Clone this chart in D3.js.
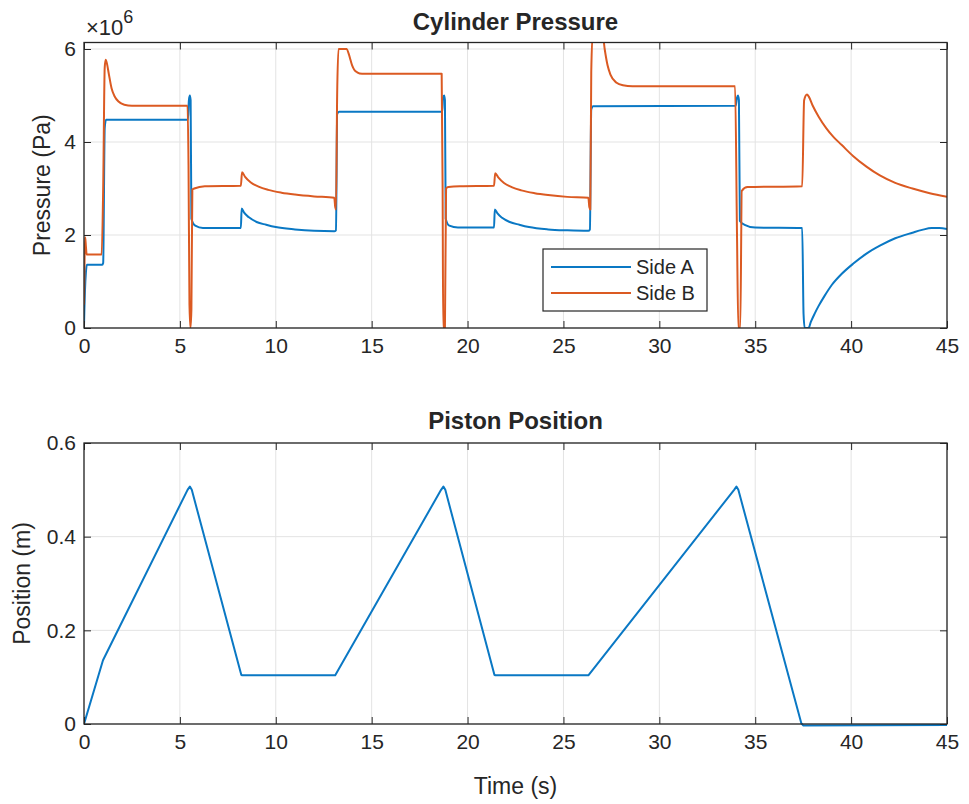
<!DOCTYPE html>
<html><head><meta charset="utf-8">
<script src="https://cdn.jsdelivr.net/npm/d3@7"></script>
<style>body{margin:0;background:#fff;} text{font-family:"Liberation Sans",Arial,sans-serif;fill:#262626;}</style>
</head><body><svg id="c" width="969" height="804"></svg>
<script>
// ---- data ----
const xTicks = [0,5,10,15,20,25,30,35,40,45];
const pTicks = [0,2,4,6];          // x 10^6 Pa
const posTicks = [0,0.2,0.4,0.6];
const seriesNames = ["Side A","Side B"];

const tA = [0,0.02,0.05,0.1,0.15,0.95,1.0,1.08,1.15,5.42,5.47,5.52,5.56,5.6,5.8,6.2,8.18,8.22,8.35,8.6,9,9.5,10,11,12,13.05,13.14,13.2,13.3,18.68,18.72,18.78,18.82,18.86,19.05,19.5,21.38,21.42,21.55,21.8,22.2,22.7,23.2,24.2,25.2,26.3,26.38,26.45,26.55,33.98,34.05,34.1,34.15,34.2,34.45,35.0,37.45,37.52,37.58,37.78,37.9,38.1,38.3,38.6,39.0,39.5,40.1,40.8,41.5,42.3,43.2,43.7,44.2,44.6,45];
const pA = [0.05,0.4,0.8,1.2,1.36,1.36,1.4,4.3,4.48,4.48,4.9,5.0,4.9,2.35,2.2,2.15,2.15,2.57,2.48,2.38,2.28,2.22,2.17,2.12,2.09,2.08,2.1,4.6,4.65,4.65,4.95,5.0,4.9,2.35,2.2,2.16,2.16,2.55,2.47,2.37,2.28,2.22,2.17,2.12,2.1,2.09,2.12,4.7,4.77,4.78,4.95,5.0,4.9,2.3,2.22,2.16,2.15,0.3,0,0,0.13,0.31,0.47,0.68,0.93,1.16,1.38,1.6,1.77,1.93,2.05,2.11,2.15,2.15,2.13];

const tB = [0,0.03,0.06,0.1,0.14,0.92,1.0,1.08,1.13,1.2,1.3,1.44,1.6,1.8,2.1,2.5,5.4,5.45,5.5,5.55,5.6,5.65,5.75,6.3,8.18,8.24,8.4,8.7,9.1,9.6,10.3,11,12,13.05,13.1,13.14,13.2,13.27,13.7,13.8,13.98,14.1,14.24,14.5,18.65,18.7,18.73,18.82,18.88,19,19.6,21.38,21.44,21.6,21.9,22.3,22.8,23.5,24.2,25.2,26.3,26.35,26.4,26.45,26.52,27.05,27.15,27.3,27.45,27.75,28.1,28.6,33.95,34.05,34.12,34.22,34.3,34.6,37.45,37.55,37.7,37.8,38.0,38.3,38.7,39.1,39.5,40.1,40.8,41.5,42.3,43.2,44.1,45];
const pB = [0.5,1.5,1.95,1.75,1.58,1.58,3.0,5.6,5.77,5.68,5.45,5.15,4.98,4.87,4.8,4.78,4.78,3.5,0.5,0,0.4,2.98,3.0,3.05,3.06,3.35,3.25,3.13,3.04,2.97,2.91,2.87,2.83,2.8,2.6,2.55,5.0,6.0,6.0,5.9,5.65,5.55,5.5,5.47,5.47,3.0,0,0,3.0,3.03,3.05,3.06,3.33,3.24,3.12,3.03,2.96,2.9,2.86,2.82,2.8,2.6,2.55,5.5,6.3,6.3,6.0,5.65,5.45,5.28,5.22,5.2,5.2,2.0,0,0,2.95,3.03,3.05,4.9,5.02,4.97,4.78,4.55,4.3,4.1,3.94,3.7,3.47,3.28,3.12,3.0,2.9,2.82];

const tPos = [0,0.99,5.4,5.52,5.62,8.2,8.25,13.1,18.62,18.74,18.84,21.4,21.45,26.3,33.9,34.02,34.12,37.4,37.5,45];
const pos  = [0,0.136,0.5,0.507,0.5,0.105,0.104,0.104,0.5,0.507,0.5,0.105,0.104,0.104,0.5,0.507,0.5,0.002,-0.003,-0.002];

// ---- layout ----
const svg = d3.select("#c");
const L = 84, R = 947;
const top1 = 42.5, bot1 = 328, top2 = 443, bot2 = 724;
const blue = "#0a78c4", orange = "#db5a22", axc = "#262626", grid = "#e3e3e3";
const tickFs = 21, labFs = 23;

const x = d3.scaleLinear().domain([0,45]).range([L,R]);
const y1 = d3.scaleLinear().domain([0,6.14]).range([bot1,top1]);
const y2 = d3.scaleLinear().domain([0,0.6]).range([bot2,top2]);

function panel(y, yT, top, bot, id, pad){
  const g = svg.append("g");
  g.selectAll(null).data(xTicks).join("line")
    .attr("x1",d=>x(d)).attr("x2",d=>x(d)).attr("y1",top).attr("y2",bot)
    .attr("stroke",grid).attr("stroke-width",1);
  g.selectAll(null).data(yT).join("line")
    .attr("x1",L).attr("x2",R).attr("y1",d=>y(d)).attr("y2",d=>y(d))
    .attr("stroke",grid).attr("stroke-width",1);
  svg.append("clipPath").attr("id",id).append("rect")
    .attr("x",L).attr("y",top).attr("width",R-L).attr("height",bot-top+pad);
}
function styleAx(s){
  s.select(".domain").remove();
  s.selectAll("line").attr("stroke",axc);
  s.selectAll("text").attr("font-size",tickFs).attr("fill",axc).attr("font-family","Liberation Sans, Arial");
}
function frame(y, yT, top, bot, yFmt){
  const g = svg.append("g");
  const tl = 7;
  g.append("g").attr("transform",`translate(0,${bot})`)
    .call(d3.axisBottom(x).tickValues(xTicks).tickSize(-tl).tickPadding(10).tickSizeOuter(0)).call(styleAx);
  g.append("g").attr("transform",`translate(0,${top})`)
    .call(d3.axisTop(x).tickValues(xTicks).tickSize(-tl).tickFormat("").tickSizeOuter(0)).call(styleAx);
  g.append("g").attr("transform",`translate(${L},0)`)
    .call(d3.axisLeft(y).tickValues(yT).tickFormat(yFmt).tickSize(-tl).tickPadding(8).tickSizeOuter(0)).call(styleAx);
  g.append("g").attr("transform",`translate(${R},0)`)
    .call(d3.axisRight(y).tickValues(yT).tickFormat("").tickSize(-tl).tickSizeOuter(0)).call(styleAx);
  g.append("rect").attr("x",L).attr("y",top).attr("width",R-L).attr("height",bot-top)
    .attr("fill","none").attr("stroke",axc).attr("stroke-width",1.3);
}

// top panel (smooth through the read points)
panel(y1,pTicks,top1,bot1,"clip1",0);
const lineA = d3.line().curve(d3.curveMonotoneX).x((d,i)=>x(tA[i])).y(d=>y1(d));
const lineB = d3.line().curve(d3.curveMonotoneX).x((d,i)=>x(tB[i])).y(d=>y1(d));
const gl1 = svg.append("g").attr("clip-path","url(#clip1)");
gl1.append("path").attr("d",lineA(pA)).attr("fill","none").attr("stroke",blue).attr("stroke-width",2).attr("stroke-linejoin","round");
gl1.append("path").attr("d",lineB(pB)).attr("fill","none").attr("stroke",orange).attr("stroke-width",2).attr("stroke-linejoin","round");
frame(y1,pTicks,top1,bot1,d3.format("d"));

// bottom panel (piecewise linear)
panel(y2,posTicks,top2,bot2,"clip2",3);
const lineP = d3.line().x((d,i)=>x(tPos[i])).y(d=>y2(d));
svg.append("g").attr("clip-path","url(#clip2)").append("path").attr("d",lineP(pos))
  .attr("fill","none").attr("stroke",blue).attr("stroke-width",2).attr("stroke-linejoin","round");
frame(y2,posTicks,top2,bot2,d=>d===0?"0":d3.format(".1f")(d));

// titles & labels
svg.append("text").attr("x",(L+R)/2).attr("y",30).attr("text-anchor","middle").attr("font-size",24).attr("font-weight","bold").attr("fill","#000").text("Cylinder Pressure");
svg.append("text").attr("x",(L+R)/2).attr("y",429).attr("text-anchor","middle").attr("font-size",24).attr("font-weight","bold").attr("fill","#000").text("Piston Position");
svg.append("text").attr("transform",`translate(50,${(top1+bot1)/2}) rotate(-90)`).attr("text-anchor","middle").attr("font-size",labFs).text("Pressure (Pa)");
svg.append("text").attr("transform",`translate(30,${(top2+bot2)/2}) rotate(-90)`).attr("text-anchor","middle").attr("font-size",labFs).text("Position (m)");
svg.append("text").attr("x",(L+R)/2).attr("y",794).attr("text-anchor","middle").attr("font-size",labFs).text("Time (s)");
// exponent
const ex = svg.append("text").attr("x",86).attr("y",35).attr("font-size",22).attr("fill","#555");
ex.append("tspan").text("\u00d710");
ex.append("tspan").attr("dy",-12).attr("font-size",18).text("6");

// legend
const lg = svg.append("g").attr("transform","translate(543,249)");
lg.append("rect").attr("width",164).attr("height",62).attr("fill","#fff").attr("stroke",axc).attr("stroke-width",1.2);
[blue,orange].forEach((c,i)=>{
  lg.append("line").attr("x1",8).attr("x2",88).attr("y1",18+i*26).attr("y2",18+i*26).attr("stroke",c).attr("stroke-width",2);
  lg.append("text").attr("x",93).attr("y",25+i*26).attr("font-size",tickFs-1).text(seriesNames[i]);
});
</script></body></html>
